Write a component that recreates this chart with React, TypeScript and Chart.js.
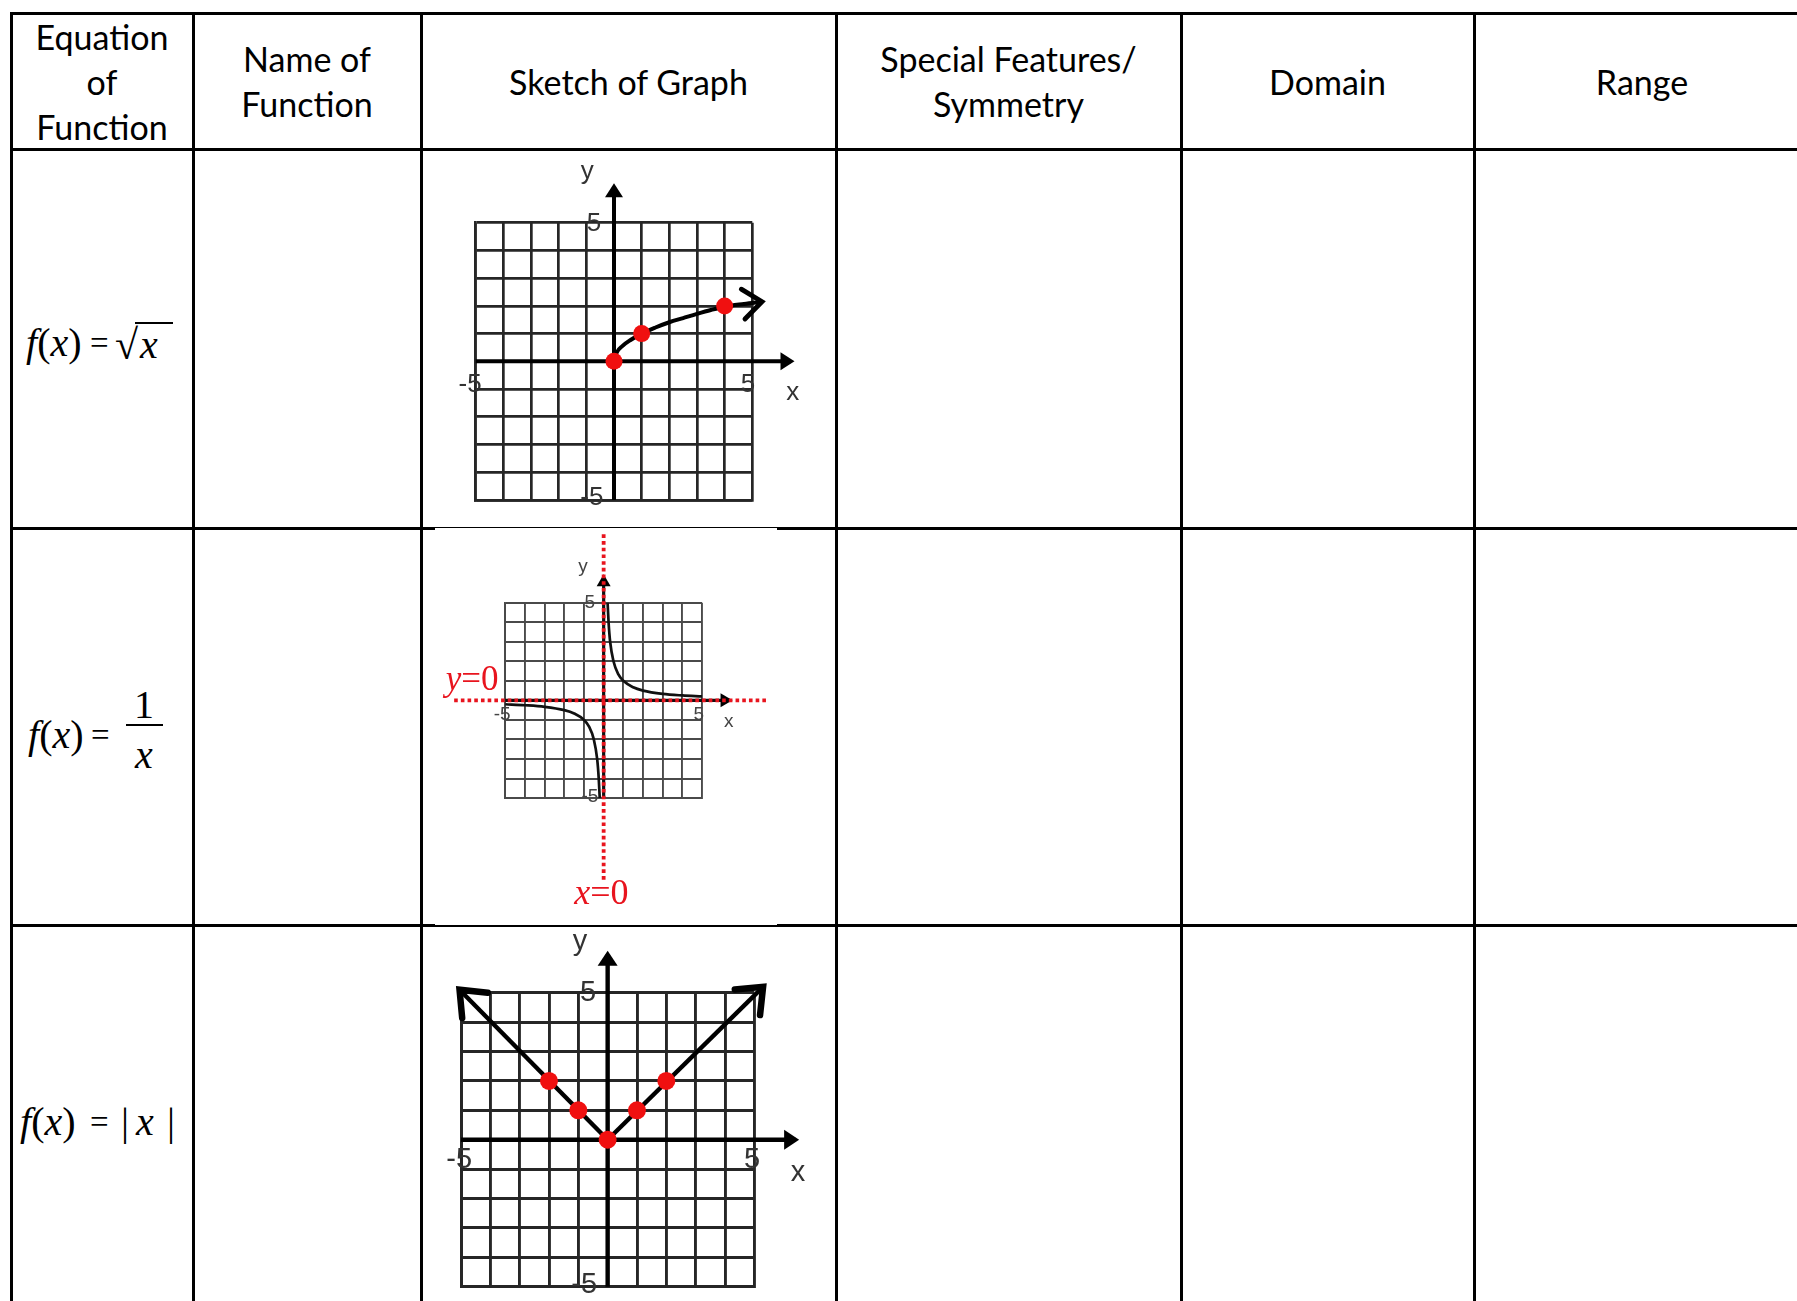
import React, { useEffect, useRef } from "react";
import { Chart, registerables } from "chart.js";

Chart.register(...registerables);

// ---------------- data ----------------
const headerTexts: string[][] = [
  ["Equation", "of", "Function"],
  ["Name of", "Function"],
  ["Sketch of Graph"],
  ["Special Features/", "Symmetry"],
  ["Domain"],
  ["Range"],
];

const axisLabelTexts = ["y", "5", "-5", "5", "x", "-5"];

// f(x) = sqrt(x)
const sqrtCurveX = [0, 0.1, 0.3, 0.6, 1, 1.5, 2, 2.5, 3, 3.5, 4, 4.7, 5.35];
const sqrtCurveY = [0, 0.32, 0.55, 0.77, 1, 1.22, 1.41, 1.56, 1.71, 1.85, 1.97, 2.07, 2.15];
const sqrtDotX = [0, 1, 4];
const sqrtDotY = [0, 1, 2];

// f(x) = 1/x
const recipRightX = [0.2, 0.25, 0.33, 0.5, 0.75, 1, 1.5, 2, 3, 4, 5];
const recipRightY = [5, 4, 3, 2, 1.33, 1, 0.67, 0.5, 0.33, 0.25, 0.2];
const recipLeftX = [-5, -4, -3, -2, -1.5, -1, -0.75, -0.5, -0.33, -0.25, -0.2];
const recipLeftY = [-0.2, -0.25, -0.33, -0.5, -0.67, -1, -1.33, -2, -3, -4, -5];
const asymVertX = [0, 0];
const asymVertY = [8.5, -9.3];
const asymHorizX = [-7.6, 8.4];
const asymHorizY = [0, 0];

// f(x) = |x|
const absLeftX = [-5.05, 0];
const absLeftY = [5.1, 0];
const absRightX = [0, 5.3];
const absRightY = [0, 5.2];
const absDotX = [-2, -1, 0, 1, 2];
const absDotY = [2, 1, 0, 1, 2];

// axes extents (data units)
const xAxisX = [-5, 6.4];
const xAxisY = [0, 0];
const yAxisX = [0, 0];
const yAxisY = [-5, 6.3];

// ---------------- layout ----------------
const LINE = 3;
const colEdges = [11, 193, 421, 836, 1181, 1474, 1810];
const rowEdges = [13, 149, 528, 925, 1310];

const RED = "#e8141e";

type Pt = { x: number; y: number };
const pts = (xs: number[], ys: number[]): Pt[] => xs.map((x, i) => ({ x, y: ys[i] }));

function lineDs(xs: number[], ys: number[], color: string, width: number, extra: any = {}) {
  return {
    data: pts(xs, ys),
    showLine: true,
    borderColor: color,
    backgroundColor: color,
    borderWidth: width,
    pointRadius: 0,
    pointHoverRadius: 0,
    fill: false,
    clip: false,
    tension: 0,
    ...extra,
  };
}
function dotDs(xs: number[], ys: number[], color: string, r: number, extra: any = {}) {
  return {
    data: pts(xs, ys),
    showLine: false,
    pointRadius: r,
    pointHoverRadius: r,
    pointBackgroundColor: color,
    pointBorderWidth: 0,
    clip: false,
    ...extra,
  };
}

function drawHead(ctx: CanvasRenderingContext2D, from: Pt, to: Pt, a: any) {
  const ang = Math.atan2(to.y - from.y, to.x - from.x);
  ctx.save();
  ctx.translate(to.x, to.y);
  ctx.rotate(ang);
  ctx.fillStyle = a.color || "#000";
  ctx.strokeStyle = a.color || "#000";
  if (a.style === "tri") {
    ctx.beginPath();
    ctx.moveTo(a.len * 0.25, 0);
    ctx.lineTo(-a.len * 0.75, -a.half);
    ctx.lineTo(-a.len * 0.75, a.half);
    ctx.closePath();
    ctx.fill();
  } else {
    ctx.lineWidth = a.lw;
    ctx.lineCap = "round";
    ctx.lineJoin = "miter";
    ctx.beginPath();
    ctx.moveTo(-a.len, -a.half);
    ctx.lineTo(0, 0);
    ctx.lineTo(-a.len, a.half);
    ctx.stroke();
  }
  ctx.restore();
}

const overlayPlugin = {
  id: "overlay",
  beforeDatasetsDraw(chart: any, _args: any, opts: any) {
    const ctx: CanvasRenderingContext2D = chart.ctx;
    const xs = chart.scales.x;
    const ys = chart.scales.y;
    const labels = (opts && opts.labels) || [];
    ctx.save();
    ctx.textBaseline = "middle";
    for (const l of labels) {
      const px = xs.getPixelForValue(l.x);
      const py = ys.getPixelForValue(l.y);
      let total = 0;
      const widths: number[] = [];
      for (const p of l.parts) {
        ctx.font = `${p.it ? "italic " : ""}${l.size}px ${l.family}`;
        const w = ctx.measureText(p.t).width;
        widths.push(w);
        total += w;
      }
      let sx = l.align === "right" ? px - total : l.align === "left" ? px : px - total / 2;
      ctx.fillStyle = l.color;
      l.parts.forEach((p: any, i: number) => {
        ctx.font = `${p.it ? "italic " : ""}${l.size}px ${l.family}`;
        ctx.textAlign = "left";
        ctx.fillText(p.t, sx, py);
        sx += widths[i];
      });
    }
    ctx.restore();
  },
  afterDatasetDraw(chart: any, args: any) {
    const ds = chart.data.datasets[args.index];
    const els = args.meta.data;
    const ctx: CanvasRenderingContext2D = chart.ctx;
    if (ds.arrowEnd && els.length > 1) {
      const n = els.length;
      drawHead(ctx, { x: els[n - 2].x, y: els[n - 2].y }, { x: els[n - 1].x, y: els[n - 1].y }, ds.arrowEnd);
    }
    if (ds.arrowStart && els.length > 1) {
      drawHead(ctx, { x: els[1].x, y: els[1].y }, { x: els[0].x, y: els[0].y }, ds.arrowStart);
    }
  },
};

type GraphCfg = {
  left: number;
  top: number;
  w: number;
  h: number;
  grid: { l: number; r: number; t: number; b: number };
  gridColor: string;
  gridWidth: number;
  datasets: any[];
  labels: any[];
  bg?: string;
};

function makeAxisLabels(pos: number[][], size: number, color: string) {
  return axisLabelTexts.map((t, i) => ({
    parts: [{ t }],
    x: pos[i][0],
    y: pos[i][1],
    size,
    color,
    family: '"Liberation Sans", Arial, sans-serif',
    align: "center",
  }));
}

function Graph({ cfg }: { cfg: GraphCfg }) {
  const ref = useRef<HTMLCanvasElement | null>(null);
  useEffect(() => {
    if (!ref.current) return;
    const g = cfg.grid;
    const padding = {
      left: g.l - cfg.left,
      right: cfg.left + cfg.w - g.r,
      top: g.t - cfg.top,
      bottom: cfg.top + cfg.h - g.b,
    };
    const scaleOpts = (pos: string) => ({
      type: "linear",
      position: pos,
      min: -5,
      max: 5,
      ticks: { display: false, stepSize: 1 },
      grid: { drawTicks: false, color: cfg.gridColor, lineWidth: cfg.gridWidth },
      border: { display: true, color: cfg.gridColor, width: cfg.gridWidth },
    });
    const chart = new Chart(ref.current, {
      type: "scatter",
      data: { datasets: cfg.datasets },
      options: {
        animation: false,
        responsive: false,
        devicePixelRatio: 1,
        events: [],
        layout: { padding },
        scales: { x: scaleOpts("bottom"), y: scaleOpts("left") } as any,
        plugins: {
          legend: { display: false },
          tooltip: { enabled: false },
          overlay: { labels: cfg.labels },
        } as any,
      },
      plugins: [overlayPlugin as any],
    });
    return () => chart.destroy();
  }, []);
  return (
    <canvas
      ref={ref}
      width={cfg.w}
      height={cfg.h}
      style={{
        position: "absolute",
        left: cfg.left,
        top: cfg.top,
        width: cfg.w,
        height: cfg.h,
        background: cfg.bg || "transparent",
      }}
    />
  );
}

// ---------- graph configs ----------
const bigTri = { style: "tri", len: 14, half: 9 };

const graph1: GraphCfg = {
  left: 423,
  top: 151,
  w: 411,
  h: 375,
  grid: { l: 475.7, r: 752.3, t: 222.7, b: 500 },
  gridColor: "#262626",
  gridWidth: 2.7,
  datasets: [
    dotDs(sqrtDotX, sqrtDotY, "#f01010", 8.5, { order: 1 }),
    lineDs(sqrtCurveX, sqrtCurveY, "#000", 4, {
      order: 2,
      cubicInterpolationMode: "monotone",
      arrowEnd: { style: "chev", len: 19, half: 15, lw: 4.8 },
    }),
    lineDs(xAxisX, xAxisY, "#000", 4, { order: 3, arrowEnd: bigTri }),
    lineDs(yAxisX, yAxisY, "#000", 4, { order: 3, arrowEnd: bigTri }),
  ],
  labels: makeAxisLabels(
    [
      [-0.97, 6.85],
      [-0.72, 4.96],
      [-5.2, -0.86],
      [4.84, -0.86],
      [6.46, -1.14],
      [-0.8, -4.93],
    ],
    26,
    "#333"
  ),
};

const smallTri = { style: "tri", len: 12, half: 7 };

const graph2: GraphCfg = {
  left: 435,
  top: 528,
  w: 342,
  h: 397,
  bg: "#ffffff",
  grid: { l: 505.3, r: 702, t: 602.7, b: 798 },
  gridColor: "#4a4a4a",
  gridWidth: 1.9,
  datasets: [
    lineDs(asymVertX, asymVertY, RED, 3.8, { order: 1, borderDash: [3.6, 3.1] }),
    lineDs(asymHorizX, asymHorizY, RED, 3.8, { order: 1, borderDash: [3.6, 3.1] }),
    lineDs(recipRightX, recipRightY, "#111", 2.7, { order: 2, cubicInterpolationMode: "monotone" }),
    lineDs(recipLeftX, recipLeftY, "#111", 2.7, { order: 2, cubicInterpolationMode: "monotone" }),
    lineDs(xAxisX, xAxisY, "#111", 3.2, { order: 3, arrowEnd: smallTri }),
    lineDs(yAxisX, yAxisY, "#111", 3.2, { order: 3, arrowEnd: smallTri }),
  ],
  labels: [
    ...makeAxisLabels(
      [
        [-1.05, 6.85],
        [-0.7, 4.98],
        [-5.16, -0.75],
        [4.84, -0.75],
        [6.36, -1.11],
        [-0.7, -4.94],
      ],
      19,
      "#444"
    ),
    {
      parts: [{ t: "y", it: true }, { t: "=0" }],
      x: -5.35,
      y: 1.0,
      size: 35,
      color: RED,
      family: '"Liberation Serif", "Times New Roman", serif',
      align: "right",
    },
    {
      parts: [{ t: "x", it: true }, { t: "=0" }],
      x: -0.12,
      y: -9.95,
      size: 36,
      color: RED,
      family: '"Liberation Serif", "Times New Roman", serif',
      align: "center",
    },
  ],
};

const graph3: GraphCfg = {
  left: 423,
  top: 927,
  w: 411,
  h: 374,
  grid: { l: 461, r: 754.3, t: 992.7, b: 1286.7 },
  gridColor: "#262626",
  gridWidth: 2.9,
  datasets: [
    dotDs(absDotX, absDotY, "#f01010", 9, { order: 1 }),
    lineDs(absLeftX, absLeftY, "#000", 4.4, {
      order: 2,
      arrowStart: { style: "chev", len: 22, half: 18, lw: 6.5 },
    }),
    lineDs(absRightX, absRightY, "#000", 4.4, {
      order: 2,
      arrowEnd: { style: "chev", len: 22, half: 18, lw: 6.5 },
    }),
    lineDs(xAxisX, xAxisY, "#000", 4.4, { order: 3, arrowEnd: { style: "tri", len: 15, half: 10 } }),
    lineDs(yAxisX, yAxisY, "#000", 4.4, { order: 3, arrowEnd: { style: "tri", len: 15, half: 10 } }),
  ],
  labels: makeAxisLabels(
    [
      [-0.94, 6.74],
      [-0.67, 5.0],
      [-5.06, -0.69],
      [4.92, -0.69],
      [6.49, -1.13],
      [-0.8, -4.95],
    ],
    29,
    "#333"
  ),
};

// ---------- table ----------
const headerFont = 'Lato, "Open Sans", Calibri, sans-serif';
const mathFont = '"Liberation Serif", "Times New Roman", serif';

function Lines() {
  const els: React.ReactNode[] = [];
  rowEdges.slice(0, 4).forEach((y, i) =>
    els.push(
      <div
        key={"h" + i}
        style={{
          position: "absolute",
          left: colEdges[0] - LINE / 2,
          top: y - LINE / 2,
          width: 1810 - colEdges[0],
          height: LINE,
          background: "#000",
        }}
      />
    )
  );
  colEdges.slice(0, 6).forEach((x, i) =>
    els.push(
      <div
        key={"v" + i}
        style={{
          position: "absolute",
          left: x - LINE / 2,
          top: rowEdges[0] - LINE / 2,
          width: LINE,
          height: 1310,
          background: "#000",
        }}
      />
    )
  );
  return <>{els}</>;
}

function Headers() {
  return (
    <>
      {headerTexts.map((lines, i) => (
        <div
          key={i}
          style={{
            position: "absolute",
            left: colEdges[i],
            top: rowEdges[0],
            width: colEdges[i + 1] - colEdges[i],
            height: rowEdges[1] - rowEdges[0],
            display: "flex",
            flexDirection: "column",
            alignItems: "center",
            justifyContent: "center",
            fontFamily: headerFont,
            fontSize: 34,
            lineHeight: "45px",
            color: "#000",
            textAlign: "center",
          }}
        >
          {lines.map((l, j) => (
            <div key={j} style={{ whiteSpace: "nowrap" }}>
              {l}
            </div>
          ))}
        </div>
      ))}
    </>
  );
}

function Piece({ x, y, children, size = 40 }: { x: number; y: number; children: React.ReactNode; size?: number }) {
  return (
    <div
      style={{
        position: "absolute",
        left: x,
        top: y,
        fontFamily: mathFont,
        fontSize: size,
        lineHeight: `${size}px`,
        color: "#000",
        whiteSpace: "pre",
        transform: "translateY(-50%)",
      }}
    >
      {children}
    </div>
  );
}

function Fx() {
  return (
    <>
      <i>f</i>(<i>x</i>)
    </>
  );
}

const EQ = 33; // size of the "=" sign

function Equations() {
  return (
    <>
      {/* f(x) = sqrt(x) */}
      <Piece x={26} y={343}>
        <Fx />
      </Piece>
      <Piece x={90} y={343} size={EQ}>=</Piece>
      <Piece x={115} y={345} size={42}>
        √
      </Piece>
      <div style={{ position: "absolute", left: 135, top: 322, width: 38, height: 2, background: "#000" }} />
      <Piece x={140} y={345}>
        <i>x</i>
      </Piece>

      {/* f(x) = 1/x */}
      <Piece x={28} y={735}>
        <Fx />
      </Piece>
      <Piece x={91} y={735} size={EQ}>=</Piece>
      <Piece x={134} y={705}>1</Piece>
      <div style={{ position: "absolute", left: 126, width: 37, top: 724, height: 2, background: "#000" }} />
      <Piece x={135} y={755}>
        <i>x</i>
      </Piece>

      {/* f(x) = |x| */}
      <Piece x={20} y={1122}>
        <Fx />
      </Piece>
      <Piece x={90} y={1122} size={EQ}>=</Piece>
      <Piece x={121} y={1122}>|</Piece>
      <Piece x={136} y={1122}>
        <i>x</i>
      </Piece>
      <Piece x={167} y={1122}>|</Piece>
    </>
  );
}

export default function App() {
  return (
    <div
      style={{
        position: "absolute",
        left: 0,
        top: 0,
        width: 1797,
        height: 1301,
        overflow: "hidden",
        background: "#fff",
      }}
    >
      <Lines />
      <Headers />
      <Equations />
      <Graph cfg={graph1} />
      <Graph cfg={graph2} />
      <Graph cfg={graph3} />
    </div>
  );
}
